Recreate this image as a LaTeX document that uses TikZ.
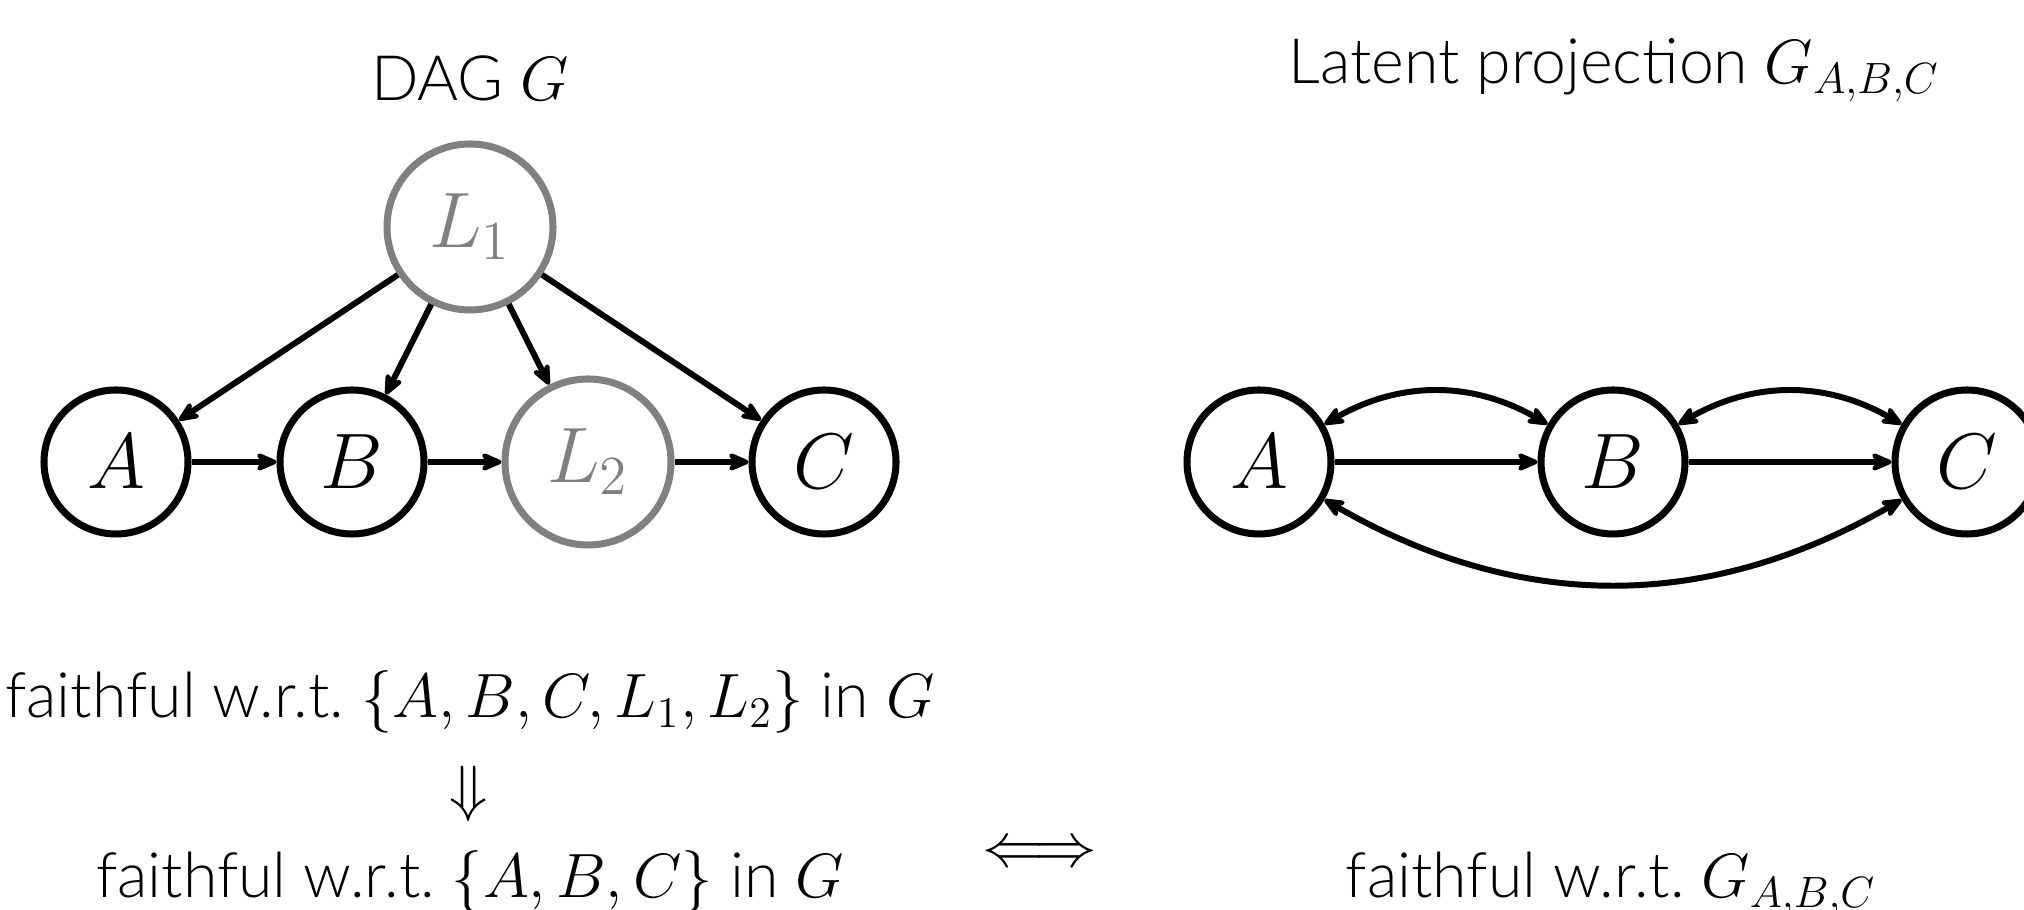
\RequirePackage{fix-cm}
\documentclass[tikz,border=0pt]{standalone}
\usepackage{fontspec}
\setmainfont{Lato Light}
\usetikzlibrary{arrows.meta, positioning}

\begin{document}
\begin{tikzpicture}[
        node distance=2.36cm,
        on grid,
        obs/.style={
            circle,
            draw,
            line width=2pt,
            minimum size=1.44cm,
            inner sep=0pt,
            font=\fontsize{22.4}{26}\selectfont
        },
        latent/.style={obs, draw=gray, text=gray, minimum size=1.66cm},
        caption/.style={font=\fontsize{17.8}{21}\selectfont, anchor=base},
        symb/.style={font=\fontsize{17.8}{21}\selectfont},
        arrow/.style={-{Stealth[length=2.8mm, width=2.4mm, inset=1mm, round]}, line width=1.7pt},
        biarrow/.style={{Stealth[length=2.8mm, width=2.4mm, inset=1mm, round]}-{Stealth[length=2.8mm, width=2.4mm, inset=1mm, round]}, line width=1.7pt}
    ]
        \useasboundingbox (0,0) rectangle (20.24,9.10);

        \node[caption] (dag) at (4.70,8.09) {DAG $G$};
        \node[caption] (proj) at (16.14,8.26) {Latent projection $G_{A,B,C}$};

        \node[obs] (A) at (1.16,4.48) {$A$};
        \node[obs, right=of A] (B) {$B$};
        \node[latent, right=of B] (L2) {$L_2$};
        \node[obs, right=of L2] (C) {$C$};
        \node[latent, above right=2.35cm and 1.18cm of B] (L1) {$L_1$};

        \node[obs] (pA) at (12.59,4.48) {$A$};
        \node[obs, right=3.54cm of pA] (pB) {$B$};
        \node[obs, right=3.54cm of pB] (pC) {$C$};

        \node[caption] (full) at (4.70,1.92) {faithful w.r.t.\ $\{A,B,C,L_1,L_2\}$ in $G$};
        \node[symb] (imp) at (4.69,1.16) {$\Downarrow$};
        \node[caption] (marg) at (4.70,0.12) {faithful w.r.t.\ $\{A,B,C\}$ in $G$};
        \node[symb] (equiv) at (10.40,0.55) {$\Longleftrightarrow$};
        \node[caption] (projf) at (16.11,0.12) {faithful w.r.t.\ $G_{A,B,C}$};

        \draw[arrow] (A) -- (B);
        \draw[arrow] (B) -- (L2);
        \draw[arrow] (L2) -- (C);
        \draw[arrow] (L1) -- (A);
        \draw[arrow] (L1) -- (B);
        \draw[arrow] (L1) -- (L2);
        \draw[arrow] (L1) -- (C);

        \draw[arrow] (pA) -- (pB);
        \draw[arrow] (pB) -- (pC);
        \draw[biarrow] (pA) to[bend left=30] (pB);
        \draw[biarrow] (pB) to[bend left=30] (pC);
        \draw[biarrow] (pA) to[bend right=30] (pC);
    \end{tikzpicture}
\end{document}
